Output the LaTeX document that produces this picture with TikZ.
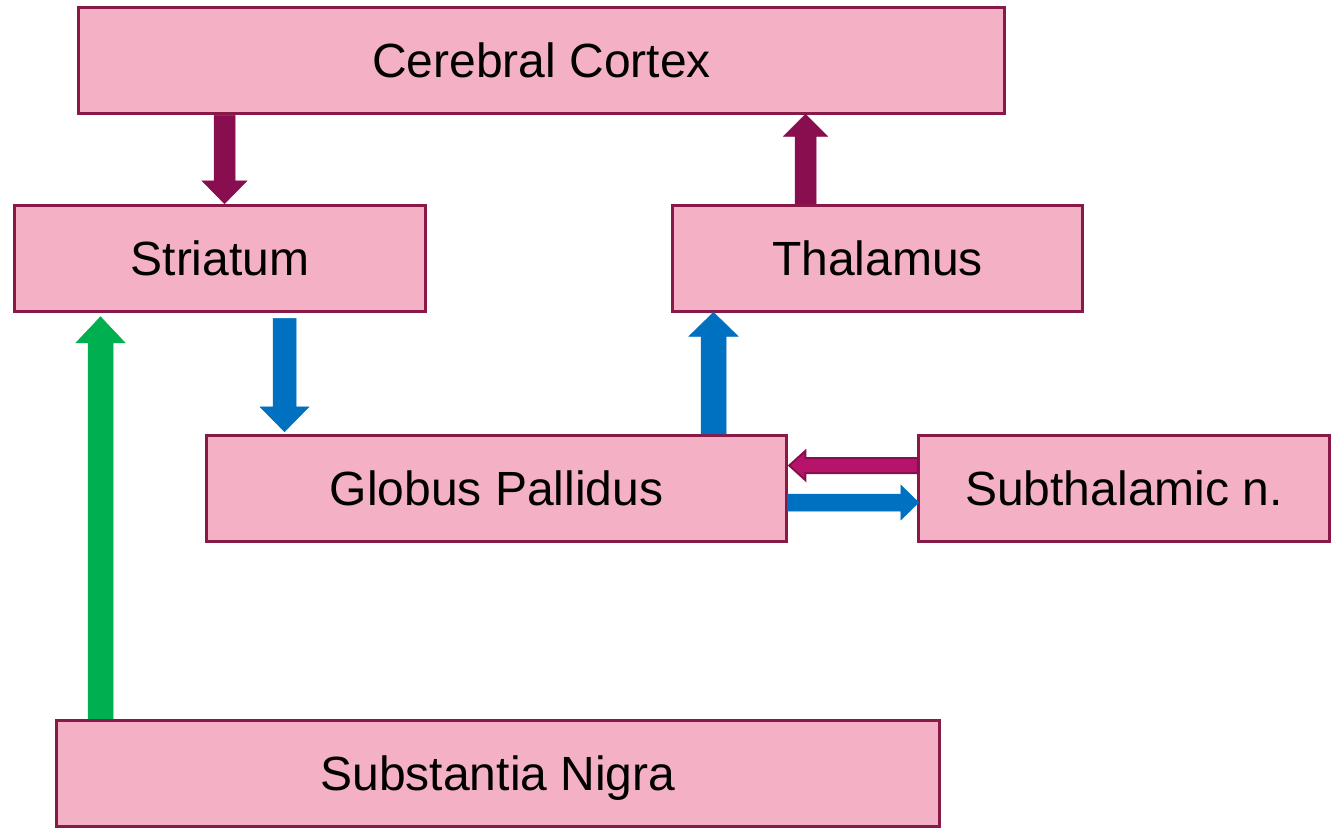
\documentclass[tikz,border=0pt]{standalone}
\usepackage{fontspec}
\setmainfont{Liberation Sans}
\usetikzlibrary{calc}
\definecolor{boxfill}{HTML}{F4B0C5}
\definecolor{boxline}{HTML}{881A48}
\definecolor{maroonarrow}{HTML}{880E4F}
\definecolor{bluearrow}{HTML}{0070C0}
\definecolor{greenarrow}{HTML}{00B050}
\definecolor{magentaarrow}{HTML}{B5146A}
\tikzset{
  box/.style={draw=boxline, fill=boxfill, line width=3.5pt, minimum height=106pt,
    inner sep=0pt, text height=34pt, text depth=0pt, font=\fontsize{48}{56}\selectfont},
  marrow/.style={fill=maroonarrow, draw=maroonarrow, line width=0.5pt},
  barrow/.style={fill=bluearrow, draw=bluearrow, line width=0.5pt},
  garrow/.style={fill=greenarrow, draw=greenarrow, line width=0.5pt},
  parrow/.style={fill=magentaarrow, draw=maroonarrow, line width=2pt, line join=miter},
}
% #1 style, #2 start, #3 end, #4 shaft half width, #5 head half width, #6 head length, #7 id
\newcommand\blockarrow[7]{%
  \coordinate (#7s) at #2;
  \coordinate (#7e) at #3;
  \coordinate (#7h) at ($(#7e)!#6!(#7s)$);
  \draw[#1] ($(#7s)!#4!90:(#7e)$) -- ($(#7h)!#4!90:(#7e)$) -- ($(#7h)!#5!90:(#7e)$)
    -- (#7e) -- ($(#7h)!#5!-90:(#7e)$) -- ($(#7h)!#4!-90:(#7e)$)
    -- ($(#7s)!#4!-90:(#7e)$) -- cycle;
}
\begin{document}
\begin{tikzpicture}[x=1pt, y=-1pt]
\useasboundingbox (0,0) rectangle (1332,836);
\node[box, minimum width=926pt] (cortex) at (541.5,60.5) {Cerebral Cortex};
\node[box, minimum width=411pt] (striatum) at (220,258.5) {Striatum};
\node[box, minimum width=410pt] (thalamus) at (877.5,258.5) {Thalamus};
\node[box, minimum width=580pt] (gp) at (496.5,488.5) {Globus Pallidus};
\node[box, minimum width=411pt] (stn) at (1124,488.5) {Subthalamic n.};
\node[box, minimum width=883pt] (sn) at (498,773.5) {Substantia Nigra};
\coordinate (xa) at (224.5,0);
\coordinate (xb) at (805.5,0);
\coordinate (xc) at (284.5,0);
\coordinate (xd) at (713.5,0);
\coordinate (xg) at (100.5,0);
\coordinate (ye) at (0,465.5);
\coordinate (yf) at (0,502.5);
\blockarrow{marrow}{(cortex.south -| xa)}{(striatum.north -| xa)}{10.5pt}{22.5pt}{23pt}{aa}
\blockarrow{marrow}{(thalamus.north -| xb)}{($(cortex.south -| xb)+(0,-1)$)}{10.5pt}{22pt}{22pt}{ab}
\blockarrow{barrow}{($(striatum.south -| xc)+(0,5)$)}{($(gp.north -| xc)+(0,-2)$)}{11.5pt}{24.5pt}{25pt}{ac}
\blockarrow{barrow}{(gp.north -| xd)}{($(thalamus.south -| xd)+(0,-1)$)}{12.5pt}{24.5pt}{24pt}{ad}
\blockarrow{parrow}{($(stn.west |- ye)+(1,0)$)}{($(gp.east |- ye)+(1,0)$)}{7.5pt}{14.5pt}{16pt}{ae}
\blockarrow{barrow}{($(gp.east |- yf)+(-1,0)$)}{($(stn.west |- yf)+(2,0)$)}{8.5pt}{17.5pt}{18pt}{af}
\blockarrow{garrow}{(sn.north -| xg)}{($(striatum.south -| xg)+(0,3.5)$)}{12.5pt}{24.5pt}{26pt}{ag}
\end{tikzpicture}
\end{document}
